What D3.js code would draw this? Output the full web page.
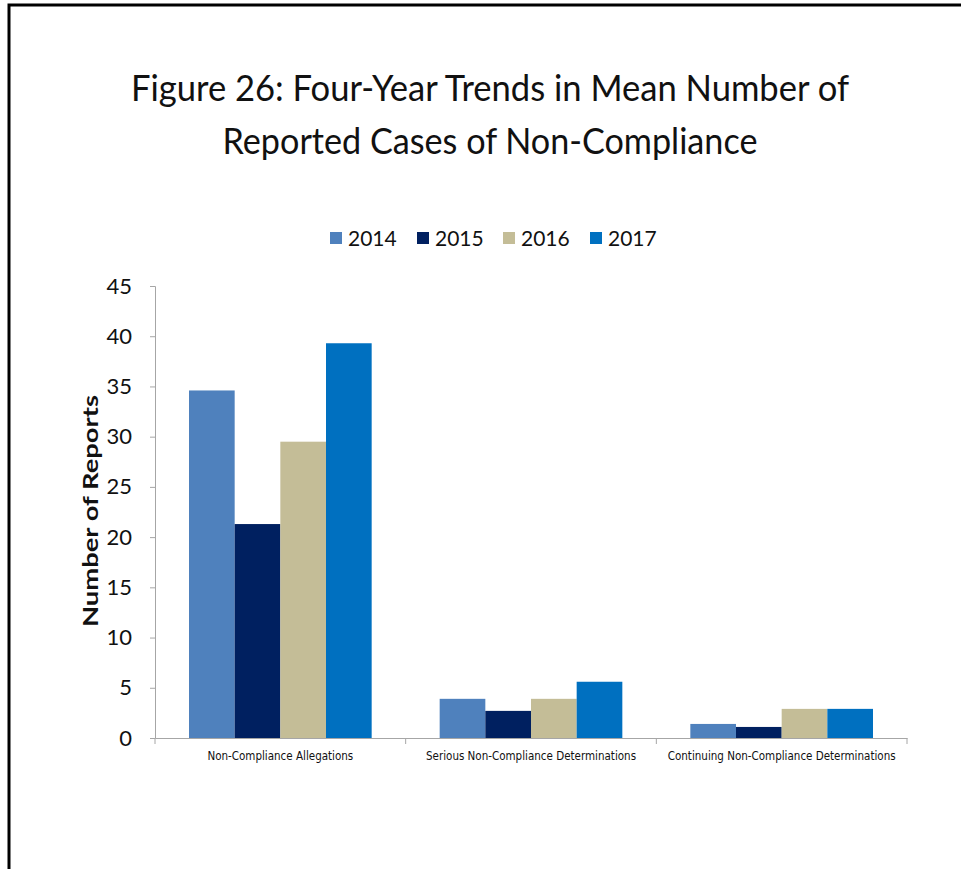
<!DOCTYPE html>
<html>
<head>
<meta charset="utf-8">
<script src="https://cdn.jsdelivr.net/npm/d3@7"></script>
<style>
  body { margin: 0; background: #fff; }
  svg { display: block; }
</style>
</head>
<body>
<svg id="chart"></svg>
<script>
const width = 961;
const height = 869;

// data
const categories = ["Non-Compliance Allegations", "Serious Non-Compliance Determinations", "Continuing Non-Compliance Determinations"];
const years = ["2014", "2015", "2016", "2017"];
const values2014 = [34.6, 3.9, 1.4];
const values2015 = [21.3, 2.7, 1.1];
const values2016 = [29.5, 3.9, 2.9];
const values2017 = [39.3, 5.6, 2.9];
const yTicks = [0, 5, 10, 15, 20, 25, 30, 35, 40, 45];
const colors = ["#4f81bd", "#002060", "#c4bd97", "#0070c0"];

const series = [values2014, values2015, values2016, values2017];
const rows = categories.map((c, i) => ({ cat: c, vals: years.map((y, j) => ({ year: y, i: j, v: series[j][i] })) }));

const font = "Lato, 'Open Sans', sans-serif";

const svg = d3.select("#chart").attr("width", width).attr("height", height);

// outer frame (only top + left visible in the source)
svg.append("path")
  .attr("d", "M9," + height + " V5 H" + width)
  .attr("fill", "none")
  .attr("stroke", "#000")
  .attr("stroke-width", 3);

// title
const title = svg.append("text")
  .attr("text-anchor", "middle")
  .style("font-family", font)
  .style("font-size", "37px")
  .attr("fill", "#111");
title.append("tspan").attr("x", 490).attr("y", 101)
  .attr("textLength", 718).attr("lengthAdjust", "spacingAndGlyphs")
  .text("Figure 26: Four-Year Trends in Mean Number of");
title.append("tspan").attr("x", 490).attr("y", 154)
  .attr("textLength", 535).attr("lengthAdjust", "spacingAndGlyphs")
  .text("Reported Cases of Non-Compliance");

// scales
const x0 = d3.scaleBand().domain(categories).range([155, 907]);
const x1 = d3.scaleBand().domain(years).range([34, x0.bandwidth() - 34]);
const y = d3.scaleLinear().domain([0, 45]).range([738, 286]);

// y axis
const yAxis = svg.append("g")
  .attr("transform", "translate(155,0)")
  .call(d3.axisLeft(y).tickValues(yTicks).tickSize(5).tickPadding(18));
yAxis.select(".domain").attr("stroke", "#a6a6a6");
yAxis.selectAll(".tick line").attr("stroke", "#a6a6a6");
yAxis.selectAll(".tick text")
  .style("font-family", font)
  .style("font-size", "22px")
  .attr("fill", "#111");

// x axis
const xAxis = svg.append("g")
  .attr("transform", "translate(0,738)")
  .call(d3.axisBottom(x0).tickSize(0).tickPadding(14));
xAxis.select(".domain").attr("stroke", "#a6a6a6");
xAxis.selectAll(".tick text")
  .style("font-family", "'DejaVu Sans Condensed', 'Liberation Sans Narrow', sans-serif")
  .style("font-size", "11.5px")
  .attr("fill", "#111");
// category separators
svg.append("g").selectAll("line")
  .data([categories[0], categories[1], categories[2], null])
  .join("line")
  .attr("x1", d => d === null ? x0.range()[1] : x0(d))
  .attr("x2", d => d === null ? x0.range()[1] : x0(d))
  .attr("y1", 738)
  .attr("y2", 744)
  .attr("stroke", "#a6a6a6");

// bars
svg.append("g").selectAll("g")
  .data(rows)
  .join("g")
  .attr("transform", d => "translate(" + x0(d.cat) + ",0)")
  .selectAll("rect")
  .data(d => d.vals)
  .join("rect")
  .attr("x", d => x1(d.year))
  .attr("y", d => y(d.v))
  .attr("width", x1.bandwidth())
  .attr("height", d => y(0) - y(d.v))
  .attr("fill", d => colors[d.i]);

// y title
svg.append("text")
  .attr("transform", "translate(98,511) rotate(-90)")
  .attr("text-anchor", "middle")
  .attr("textLength", 232)
  .attr("lengthAdjust", "spacingAndGlyphs")
  .style("font-family", font)
  .style("font-size", "21px")
  .style("font-weight", "bold")
  .attr("fill", "#111")
  .text("Number of Reports");

// legend
const legendX = [330, 417, 503, 590];
const legend = svg.append("g").selectAll("g")
  .data(years)
  .join("g")
  .attr("transform", (d, i) => "translate(" + legendX[i] + ",232)");
legend.append("rect")
  .attr("width", 12)
  .attr("height", 12)
  .attr("fill", (d, i) => colors[i]);
legend.append("text")
  .attr("x", 18)
  .attr("y", 14)
  .style("font-family", font)
  .style("font-size", "21px")
  .attr("fill", "#111")
  .text(d => d);
</script>
</body>
</html>
